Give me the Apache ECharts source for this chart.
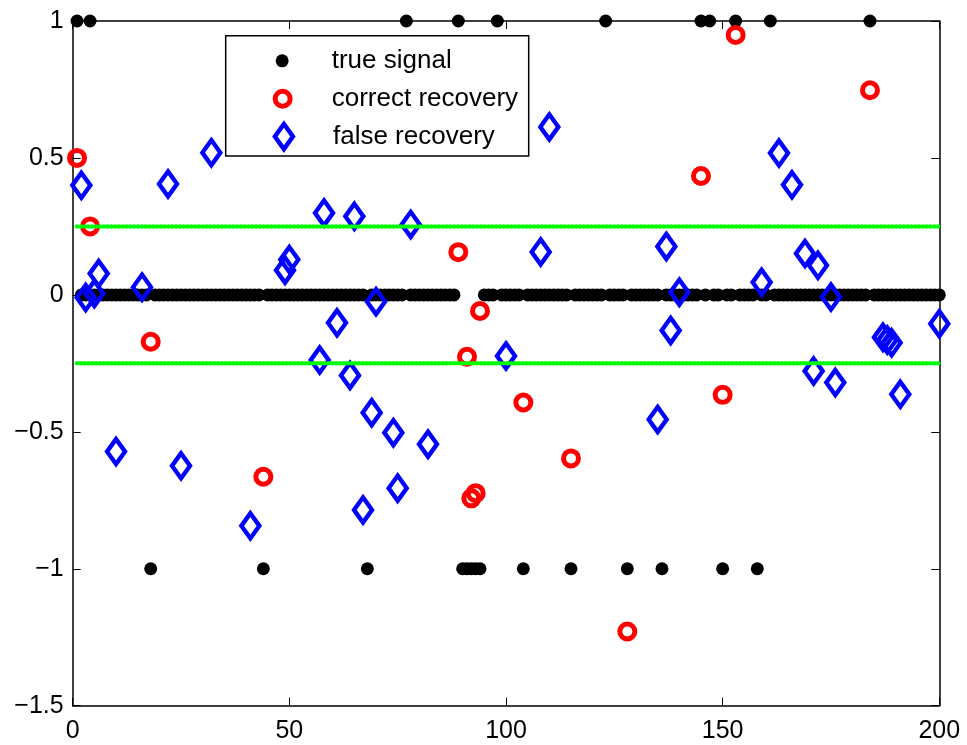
<!DOCTYPE html>
<html>
<head>
<meta charset="utf-8">
<script src="https://cdn.jsdelivr.net/npm/echarts@6/dist/echarts.min.js"></script>
<style>
html,body{margin:0;padding:0;background:#fff;}
#chart{width:967px;height:745px;}
</style>
</head>
<body>
<div id="chart"></div>
<script>
// ---- data ----
// true signal, index 1..200
var trueSignal = [
  1,0,0,1,0,0,0,0,0,0, 0,0,0,0,0,0,0,-1,0,0,
  0,0,0,0,0,0,0,0,0,0, 0,0,0,0,0,0,0,0,0,0,
  0,0,0,-1,0,0,0,0,0,0, 0,0,0,0,0,0,0,0,0,0,
  0,0,0,0,0,0,0,-1,0,0, 0,0,0,0,0,0,1,0,0,0,
  0,0,0,0,0,0,0,0,1,-1, -1,-1,-1,-1,0,0,0,1,0,0,
  0,0,0,-1,0,0,0,0,0,0, 0,0,0,0,-1,0,0,0,0,0,
  0,0,1,0,0,0,0,-1,0,0, 0,0,0,0,0,-1,0,0,0,0,
  0,0,0,0,1,0,1,0,0,-1, 0,0,1,0,0,0,0,-1,0,0,
  1,0,0,0,0,0,0,0,0,0, 0,0,0,0,0,0,0,0,0,0,
  0,0,0,1,0,0,0,0,0,0, 0,0,0,0,0,0,0,0,0,0
];
var correctX = [1, 4, 18, 44, 89, 91, 92, 93, 94, 104, 115, 128, 145, 150, 153, 184];
var correctY = [0.5, 0.25, -0.171, -0.664, 0.156, -0.226, -0.743, -0.724, -0.059, -0.393, -0.597, -1.229, 0.434, -0.365, 0.949, 0.747];
var falseX = [2, 3, 5, 6, 10, 16, 22, 25, 32, 41, 49, 50, 57, 58, 61, 64, 65, 67, 69, 70, 74, 75, 78, 82,
  100, 108, 110, 135, 137, 138, 140, 159, 163, 166, 169, 171, 172, 175, 176, 187, 188, 189, 191, 200];
var falseY = [0.40, -0.01, 0.005, 0.078, -0.572, 0.028, 0.405, -0.624, 0.519, -0.843, 0.09, 0.129, -0.238, 0.299, -0.102, -0.294, 0.287, -0.785, -0.43, -0.025, -0.503, -0.706, 0.257, -0.545,
  -0.223, 0.157, 0.613, -0.455, 0.177, -0.13, 0.01, 0.046, 0.518, 0.402, 0.151, -0.278, 0.108, -0.008, -0.32, -0.155, -0.165, -0.175, -0.363, -0.105];
var thresholdX = [1, 200];
var thresholdUpper = 0.25;
var thresholdLower = -0.25;
var seriesNames = ['true signal', 'correct recovery', 'false recovery'];
var xTicks = {min: 0, max: 200, interval: 50};
var yTicks = {min: -1.5, max: 1, interval: 0.5};

// ---- build ----
var FONT = "'Liberation Sans', Arial, Helvetica, sans-serif";
var trueData = trueSignal.map(function (v, i) { return [i + 1, v]; });
var correctData = correctX.map(function (x, i) { return [x, correctY[i]]; });
var falseData = falseX.map(function (x, i) { return [x, falseY[i]]; });
var upperData = thresholdX.map(function (x) { return [x, thresholdUpper]; });
var lowerData = thresholdX.map(function (x) { return [x, thresholdLower]; });

function fmt(v) { return String(v).replace('-', '\u2212'); }

var axisLineStyle = {color: '#000', width: 1.5};
var tickStyle = {show: true, inside: true, length: 8, lineStyle: {color: '#000', width: 1}};

var chart = echarts.init(document.getElementById('chart'), null, {renderer: 'canvas'});
function legendText(pad) {
  return {fontFamily: FONT, fontSize: 26, color: '#000', padding: [0, 0, 0, pad]};
}
var legendBase = {orient: 'vertical', padding: 0, itemWidth: 44.7, selectedMode: false};
var option = {
  animation: false,
  backgroundColor: '#fff',
  grid: {left: 72.7, right: 27.7, top: 21, bottom: 39.3, containLabel: false},
  xAxis: [
    {type: 'value', position: 'bottom', min: xTicks.min, max: xTicks.max, interval: xTicks.interval,
     axisLine: {show: true, onZero: false, lineStyle: axisLineStyle},
     axisTick: tickStyle, splitLine: {show: false},
     axisLabel: {color: '#000', fontFamily: FONT, fontSize: 25, margin: 13, formatter: fmt}},
    {type: 'value', position: 'top', min: xTicks.min, max: xTicks.max, interval: xTicks.interval,
     axisLine: {show: true, onZero: false, lineStyle: axisLineStyle},
     axisTick: tickStyle, splitLine: {show: false}, axisLabel: {show: false}}
  ],
  yAxis: [
    {type: 'value', position: 'left', min: yTicks.min, max: yTicks.max, interval: yTicks.interval,
     axisLine: {show: true, onZero: false, lineStyle: axisLineStyle},
     axisTick: tickStyle, splitLine: {show: false},
     axisLabel: {color: '#000', fontFamily: FONT, fontSize: 25, margin: 9, formatter: fmt}},
    {type: 'value', position: 'right', min: yTicks.min, max: yTicks.max, interval: yTicks.interval,
     axisLine: {show: true, onZero: false, lineStyle: axisLineStyle},
     axisTick: tickStyle, splitLine: {show: false}, axisLabel: {show: false}}
  ],
  graphic: [{
    type: 'rect', z: 3, silent: true,
    shape: {x: 225.7, y: 35.7, width: 303, height: 120.3},
    style: {fill: '#fff', stroke: '#000', lineWidth: 1.5}
  }],
  legend: [
    Object.assign({}, legendBase, {left: 275.65, top: 59.3 - 11.5, itemHeight: 13,
      textStyle: legendText(22.2),
      data: [{name: seriesNames[0], icon: 'circle'}]}),
    Object.assign({}, legendBase, {left: 272.65, top: 97.3 - 11.5, itemHeight: 15,
      itemStyle: {borderWidth: 5}, textStyle: legendText(21.7),
      data: [{name: seriesNames[1], icon: 'circle'}]}),
    Object.assign({}, legendBase, {left: 272.65, top: 134.3 - 12.5, itemHeight: 25,
      itemStyle: {borderWidth: 4.5, borderJoin: 'miter', borderMiterLimit: 10},
      textStyle: legendText(21.7),
      data: [{name: seriesNames[2], icon: 'path://M0,0L9,12.5L0,25L-9,12.5Z'}]})
  ],
  series: [
    {name: seriesNames[0], type: 'scatter', clip: false, symbol: 'circle', symbolSize: 13,
     itemStyle: {color: '#000', opacity: 1}, data: trueData},
    {name: seriesNames[1], type: 'scatter', clip: false, symbol: 'circle', symbolSize: 15,
     itemStyle: {color: 'transparent', borderColor: '#ff0000', borderWidth: 5, opacity: 1}, data: correctData},
    {name: seriesNames[2], type: 'scatter', clip: false, symbol: 'diamond', symbolSize: [18, 25],
     itemStyle: {color: 'transparent', borderColor: '#0000ff', borderWidth: 4.5, borderJoin: 'miter', borderMiterLimit: 10, opacity: 1},
     data: falseData},
    {name: 'upper threshold', type: 'line', symbol: 'none', silent: true, clip: false,
     lineStyle: {color: '#00ff00', width: 4.5, type: [0.01, 3.8], cap: 'round'}, data: upperData},
    {name: 'lower threshold', type: 'line', symbol: 'none', silent: true, clip: false,
     lineStyle: {color: '#00ff00', width: 4.5, type: [0.01, 3.8], cap: 'round'}, data: lowerData}
  ]
};
chart.setOption(option);
</script>
</body>
</html>
